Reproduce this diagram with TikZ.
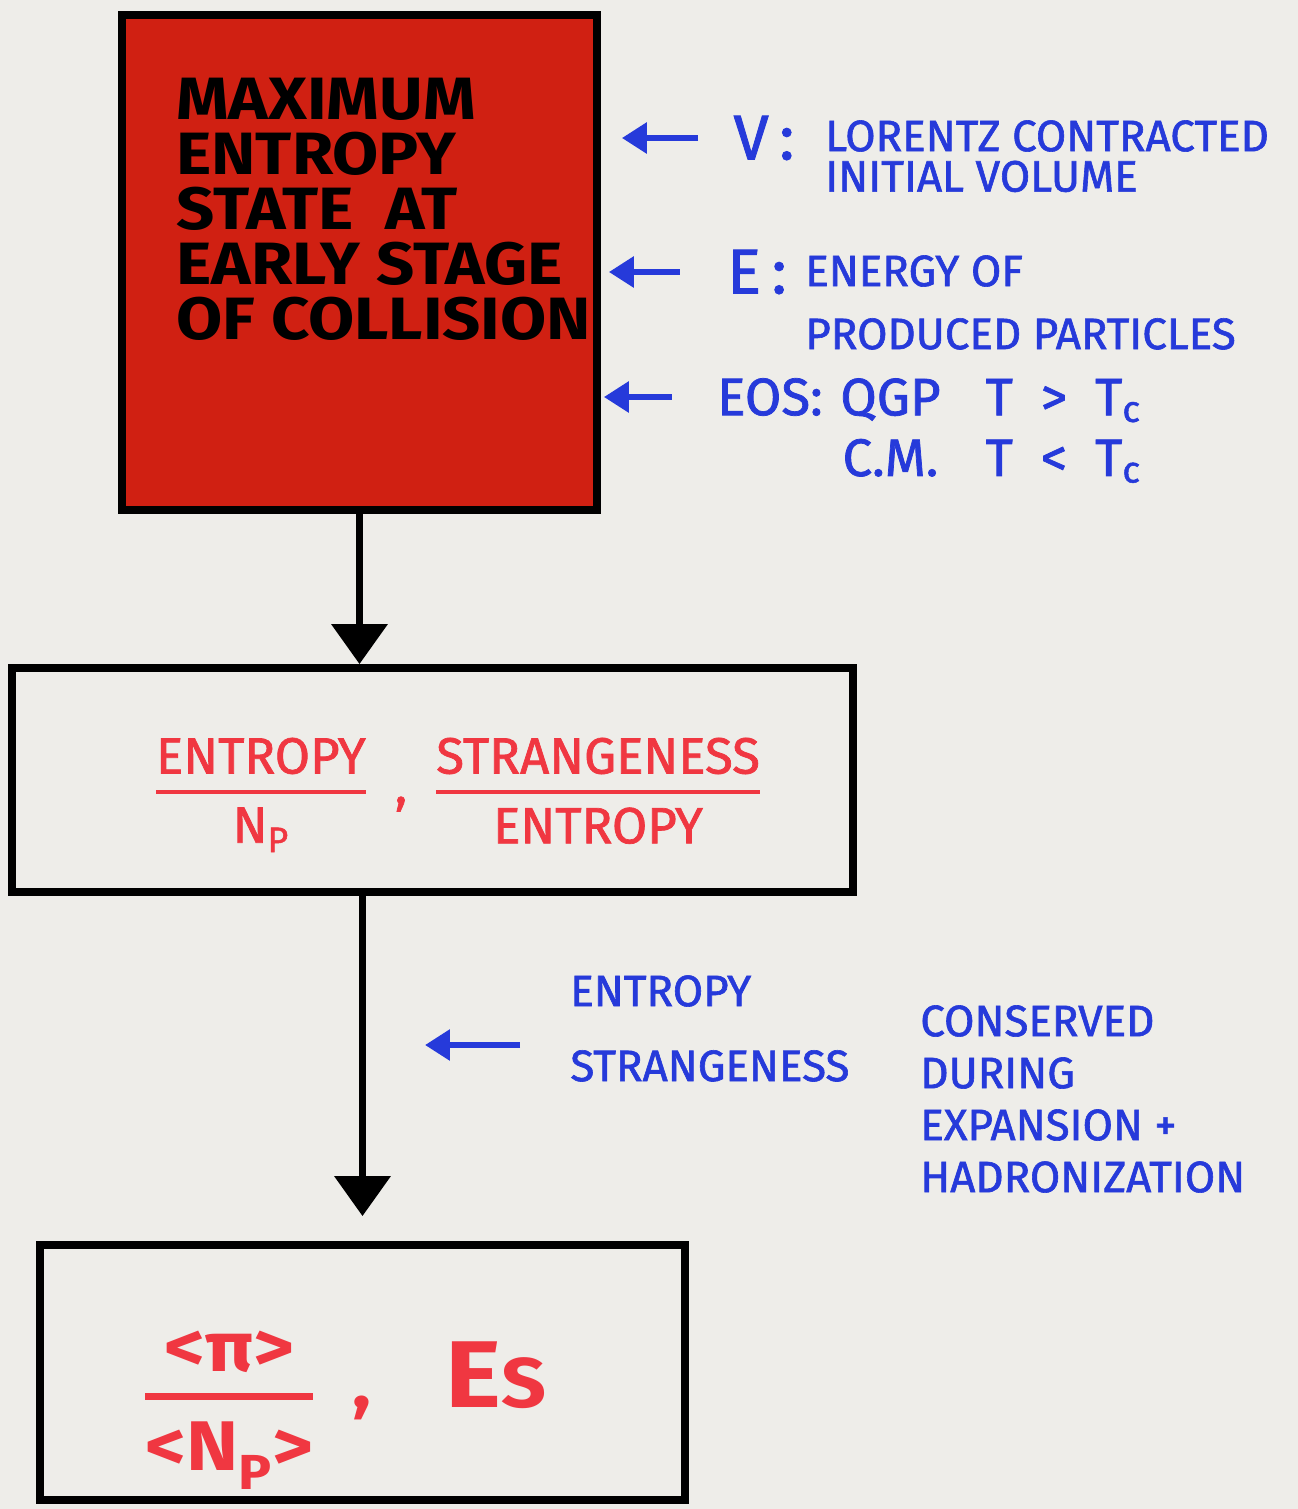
\documentclass[tikz,border=0pt]{standalone}
\usepackage{amsmath}
\usepackage{fontspec}
\setmainfont{Fira Sans}
\newfontfamily\widefont[FakeStretch=1.12]{Fira Sans}
\newfontfamily\penfont[FakeBold=1.4]{Fira Sans}
\usetikzlibrary{arrows.meta}
\definecolor{paper}{RGB}{238,237,233}
\definecolor{boxred}{RGB}{208,32,18}
\definecolor{inkred}{RGB}{240,55,65}
\definecolor{inkblue}{RGB}{38,58,218}

\begin{document}
\begin{tikzpicture}[x=0.02cm,y=-0.02cm,
    box/.style={draw=black,line width=4.5pt,inner sep=0pt},
    flow/.style={line width=4pt,-{Triangle[length=0.8cm,width=1.1cm]}},
    hint/.style={inkblue,line width=3.4pt,-{Triangle[length=0.5cm,width=0.6cm]}},
    note/.style={text=inkblue,inner sep=0pt,align=left,font=\penfont\fontsize{25}{23}\selectfont},
    tag/.style={text=inkblue,inner sep=0pt,font=\penfont\fontsize{36}{36}\selectfont}]
  \fill[paper] (0,0) rectangle (1298,1509);
  \useasboundingbox (0,0) rectangle (1298,1509);

  % the three stages
  \node[box,fill=boxred,minimum width=9.5cm,minimum height=9.9cm] (early) at (359.5,262.5) {};
  \node[anchor=north west,inner sep=0pt,align=left,font=\widefont\bfseries\fontsize{34}{31.3}\selectfont] (earlytxt) at (176,78)
    {MAXIMUM\\ENTROPY\\STATE \ AT\\EARLY STAGE\\OF COLLISION};
  \node[box,minimum width=16.82cm,minimum height=4.48cm] (ratio) at (432.5,780) {};
  \node[text=inkred,inner sep=0pt,font=\penfont\fontsize{29}{29}\selectfont] (ratiotxt) at (458,795)
    {$\genfrac{}{}{2.5pt}{0}{\text{ENTROPY}}{\text{N}_{\text{P}}}$\ \ ,\ \
     $\genfrac{}{}{2.5pt}{0}{\text{STRANGENESS}}{\text{ENTROPY}}$};
  \node[box,minimum width=12.9cm,minimum height=5.1cm] (final) at (362.5,1372.5) {};
  \node[text=inkred,inner sep=0pt,font=\widefont\bfseries\fontsize{40}{40}\selectfont] (finaltxt) at (345,1410)
    {$\genfrac{}{}{4pt}{0}{\text{<π>}}{\text{<N\textsubscript{P}>}}$\ \ ,\ \ \ \ {\fontsize{54}{54}\selectfont E}S};

  \path[flow]
    (early.south) edge (early.south |- ratio.north)
    (final.north |- ratio.south) edge[shorten >=0.5cm] (final.north);

  % inputs of the first stage
  \node[tag] (vlab) at (764,138) {V\,:};
  \node[note,anchor=north west] (vtxt) at (825,120) {LORENTZ CONTRACTED\\INITIAL VOLUME};
  \node[tag] (elab) at (757,272) {E\,:};
  \node[note,anchor=north west] (etxt) at (805,255) {ENERGY OF\\[0.45cm]PRODUCED PARTICLES};
  \node[tag,font=\penfont\fontsize{30}{30}\selectfont] (eoslab) at (770,397) {EOS:};
  \node[note,anchor=north west,font=\penfont\fontsize{30}{26}\selectfont] (eostxt) at (840,378)
    {\begin{tabular}{@{}c@{\hspace{0.9cm}}l@{}}
      QGP & T\ \ >\ \ T\textsubscript{c}\\[0.2cm]
      C.M. & T\ \ <\ \ T\textsubscript{c}
    \end{tabular}};
  \path[hint]
    (vlab.west) edge[shorten <=0.7cm,shorten >=0.42cm] (early.east |- vlab.west)
    (elab.west) edge[shorten <=0.94cm,shorten >=0.16cm] (early.east |- elab.west)
    (eoslab.west) edge[shorten <=0.9cm,shorten >=0.06cm] (early.east |- eoslab.west);

  % what is kept on the way down
  \coordinate (hit) at (425,1045);
  \node[note,anchor=north west] (kept) at (570,975) {ENTROPY\\[0.69cm]STRANGENESS};
  \node[note,anchor=north west,font=\penfont\fontsize{25}{29.6}\selectfont] (why) at (920,1005)
    {CONSERVED\\DURING\\EXPANSION +\\HADRONIZATION};
  \draw[hint,shorten <=1cm] (kept.west |- hit) -- (hit);
\end{tikzpicture}
\end{document}
